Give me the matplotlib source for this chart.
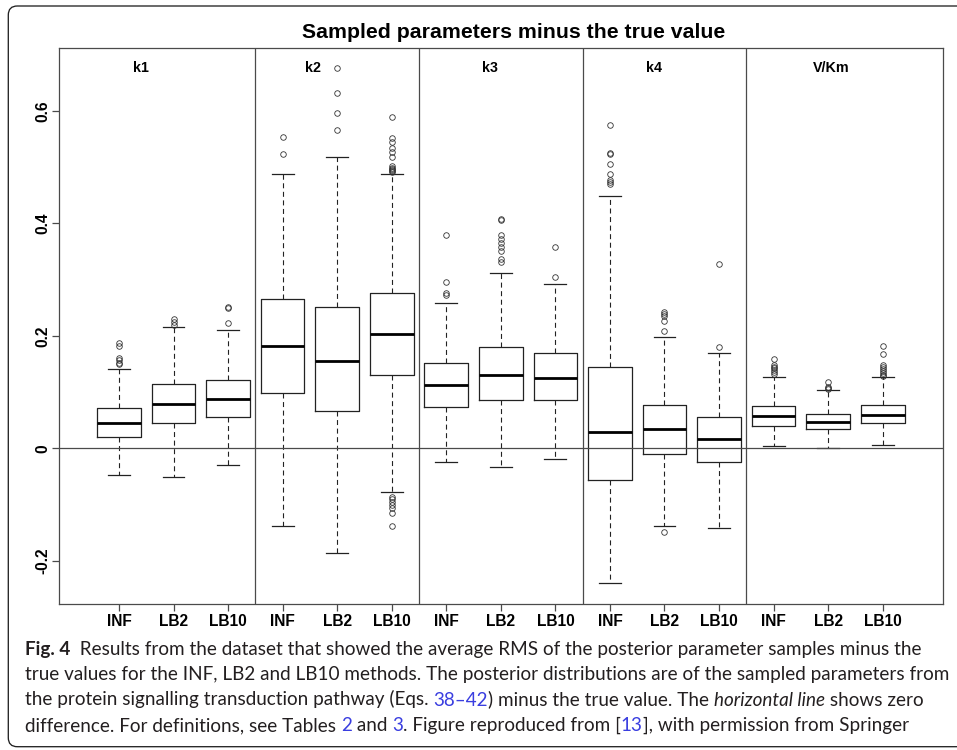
import matplotlib
matplotlib.use("Agg")
import matplotlib.pyplot as plt
from matplotlib.patches import FancyBboxPatch
from matplotlib.transforms import IdentityTransform

# ---------------- data ----------------
params = ["k1", "k2", "k3", "k4", "V/Km"]
methods = ["INF", "LB2", "LB10"]
tick_labels = methods * 5

q3 = [0.071, 0.115, 0.121, 0.266, 0.251, 0.2755, 0.151, 0.1795, 0.170,
      0.145, 0.0764, 0.0562, 0.0752, 0.0615, 0.0764]
medians = [0.0455, 0.078, 0.0876, 0.182, 0.156, 0.2037, 0.113, 0.1298, 0.125,
           0.0295, 0.0349, 0.016, 0.058, 0.046, 0.0598]
q1 = [0.0196, 0.0455, 0.055, 0.099, 0.0663, 0.131, 0.0729, 0.0853, 0.086,
      -0.057, -0.0101, -0.0238, 0.0402, 0.0337, 0.0444]
whis_hi = [0.1416, 0.216, 0.210, 0.488, 0.518, 0.487, 0.259, 0.312, 0.2915,
           0.4485, 0.1984, 0.169, 0.1268, 0.1036, 0.1268]
whis_lo = [-0.048, -0.0504, -0.030, -0.139, -0.1856, -0.0777, -0.025, -0.0338, -0.019,
           -0.24, -0.1387, -0.141, 0.004, 0.0005, 0.0065]
outliers = [
    [0.1867, 0.1824, 0.160, 0.1564, 0.152, 0.149],
    [0.229, 0.224, 0.220],
    [0.252, 0.249, 0.222],
    [0.554, 0.523],
    [0.6755, 0.631, 0.596, 0.566],
    [0.5895, 0.551, 0.544, 0.533, 0.526, 0.518, 0.502, 0.499, 0.497, 0.495, 0.493, 0.491,
     -0.086, -0.0907, -0.0955, -0.101, -0.107, -0.1156, -0.139],
    [0.3787, 0.2957, 0.2755, 0.272],
    [0.407, 0.405, 0.379, 0.3716, 0.3644, 0.3573, 0.350, 0.336, 0.332],
    [0.358, 0.305],
    [0.574, 0.5255, 0.5237, 0.5054, 0.488, 0.477, 0.473, 0.469],
    [0.243, 0.239, 0.235, 0.226, 0.209, -0.149],
    [0.327, 0.1795],
    [0.1588, 0.148, 0.145, 0.142, 0.139, 0.136, 0.1316],
    [0.118, 0.1095, 0.107, 0.105],
    [0.182, 0.1676, 0.148, 0.1445, 0.141, 0.1374, 0.134, 0.1304, 0.1285],
]
panel_label_x = [1.4, 4.55, 7.8, 10.8, 14.05]
separators = [3.5, 6.5, 9.5, 12.5]
y_ticks = [-0.2, 0.0, 0.2, 0.4, 0.6]
y_tick_labels = ["-0.2", "0", "0.2", "0.4", "0.6"]

title = "Sampled parameters minus the true value"

# ---------------- figure ----------------
W, H = 957, 750
fig = plt.figure(figsize=(W / 100, H / 100), dpi=100)
fig.patch.set_facecolor("white")

def fx(px):
    return px / W

def fy(py):
    return 1 - py / H

ax_left, ax_right, ax_top, ax_bot = 59, 942.7, 47.7, 603.5
ax = fig.add_axes([fx(ax_left), fy(ax_bot), (ax_right - ax_left) / W, (ax_bot - ax_top) / H])

stats = []
for i in range(15):
    stats.append(dict(med=medians[i], q1=q1[i], q3=q3[i], whislo=whis_lo[i],
                      whishi=whis_hi[i], fliers=outliers[i], label=tick_labels[i]))

box_col = "#222222"
ax.bxp(stats, positions=list(range(1, 16)), widths=0.8, showfliers=True,
       boxprops=dict(color=box_col, linewidth=0.9),
       medianprops=dict(color="black", linewidth=2.0, solid_capstyle="butt"),
       whiskerprops=dict(color=box_col, linewidth=0.8, linestyle=(0, (4.5, 3.2))),
       capprops=dict(color=box_col, linewidth=0.9),
       capwidths=0.4,
       flierprops=dict(marker="o", markerfacecolor="none", markeredgecolor="#333333",
                       markersize=4.0, markeredgewidth=0.6, linestyle="none"))

ax.set_xlim(-0.1, 16.1)
ax.set_ylim(-0.2759, 0.7122)

frame_col = "#4a4a4a"
for s in ax.spines.values():
    s.set_color(frame_col)
    s.set_linewidth(0.9)
for xs in separators:
    ax.axvline(xs, color=frame_col, linewidth=0.9)
ax.axhline(0, color=frame_col, linewidth=0.9)

ax.set_xticks(range(1, 16))
ax.set_xticklabels(tick_labels, fontfamily="Liberation Sans", fontweight="bold", fontsize=11.2)
ax.set_yticks(y_ticks)
ax.set_yticklabels(y_tick_labels, fontfamily="Liberation Sans", fontweight="bold",
                   fontsize=11.2, rotation=90, va="center")
ax.tick_params(axis="x", length=4.8, width=0.9, color=frame_col, pad=3.0)
ax.tick_params(axis="y", length=4.8, width=0.9, color=frame_col, pad=1.6)

for lab, x in zip(params, panel_label_x):
    ax.text(x, 0.6695, lab, ha="center", va="baseline", fontfamily="Liberation Sans",
            fontweight="bold", fontsize=10.3)

fig.text(fx(514), fy(38.3), title, ha="center", va="baseline",
         fontfamily="Liberation Sans", fontweight="bold", fontsize=15.3)

# ---------------- border ----------------
border = FancyBboxPatch((8.3, H - 746.7), 980, 746.7 - 6.0,
                        boxstyle="round,pad=0,rounding_size=9",
                        transform=IdentityTransform(), fill=False,
                        edgecolor="#222222", linewidth=0.95, clip_on=False)
fig.patches.append(border)

# ---------------- caption ----------------
renderer = fig.canvas.get_renderer()
cap_font = "Lato"
cap_col = "#231f20"
link_col = "#3a3ee0"

styles = {
    "reg": dict(fontfamily=cap_font, color=cap_col),
    "bold": dict(fontfamily=cap_font, color=cap_col, fontweight="bold"),
    "it": dict(fontfamily=cap_font, color=cap_col, fontstyle="italic"),
    "link": dict(fontfamily=cap_font, color=link_col),
}

def text_width(s, size, st):
    t1 = fig.text(0, 0, "|" + s + "|", fontsize=size, **styles[st])
    t2 = fig.text(0, 0, "||", fontsize=size, **styles[st])
    w = t1.get_window_extent(renderer).width - t2.get_window_extent(renderer).width
    t1.remove()
    t2.remove()
    return w

caption_lines = [
    [("Fig. 4", "bold"), ("  Results from the dataset that showed the average RMS of the posterior parameter samples minus the", "reg")],
    [("true values for the INF, LB2 and LB10 methods. The posterior distributions are of the sampled parameters from", "reg")],
    [("the protein signalling transduction pathway (Eqs. ", "reg"), ("38\u201342", "link"),
     (") minus the true value. The ", "reg"), ("horizontal line", "it"), (" shows zero", "reg")],
    [("difference. For definitions, see Tables ", "reg"), ("2", "link"), (" and ", "reg"), ("3", "link"),
     (". Figure reproduced from [", "reg"), ("13", "link"), ("], with permission from Springer", "reg")],
]
baselines = [655, 680, 705.5, 731]
x_start = 25

base = 10.0
w2 = sum(text_width(s, base, st) for s, st in caption_lines[1])
cap_size = base * (950 - x_start) / w2

for line, yb in zip(caption_lines, baselines):
    x = x_start
    for s, st in line:
        fig.text(fx(x), fy(yb), s, fontsize=cap_size, ha="left", va="baseline", **styles[st])
        x += text_width(s, cap_size, st)

fig.savefig("out.png", dpi=100, facecolor="white")
